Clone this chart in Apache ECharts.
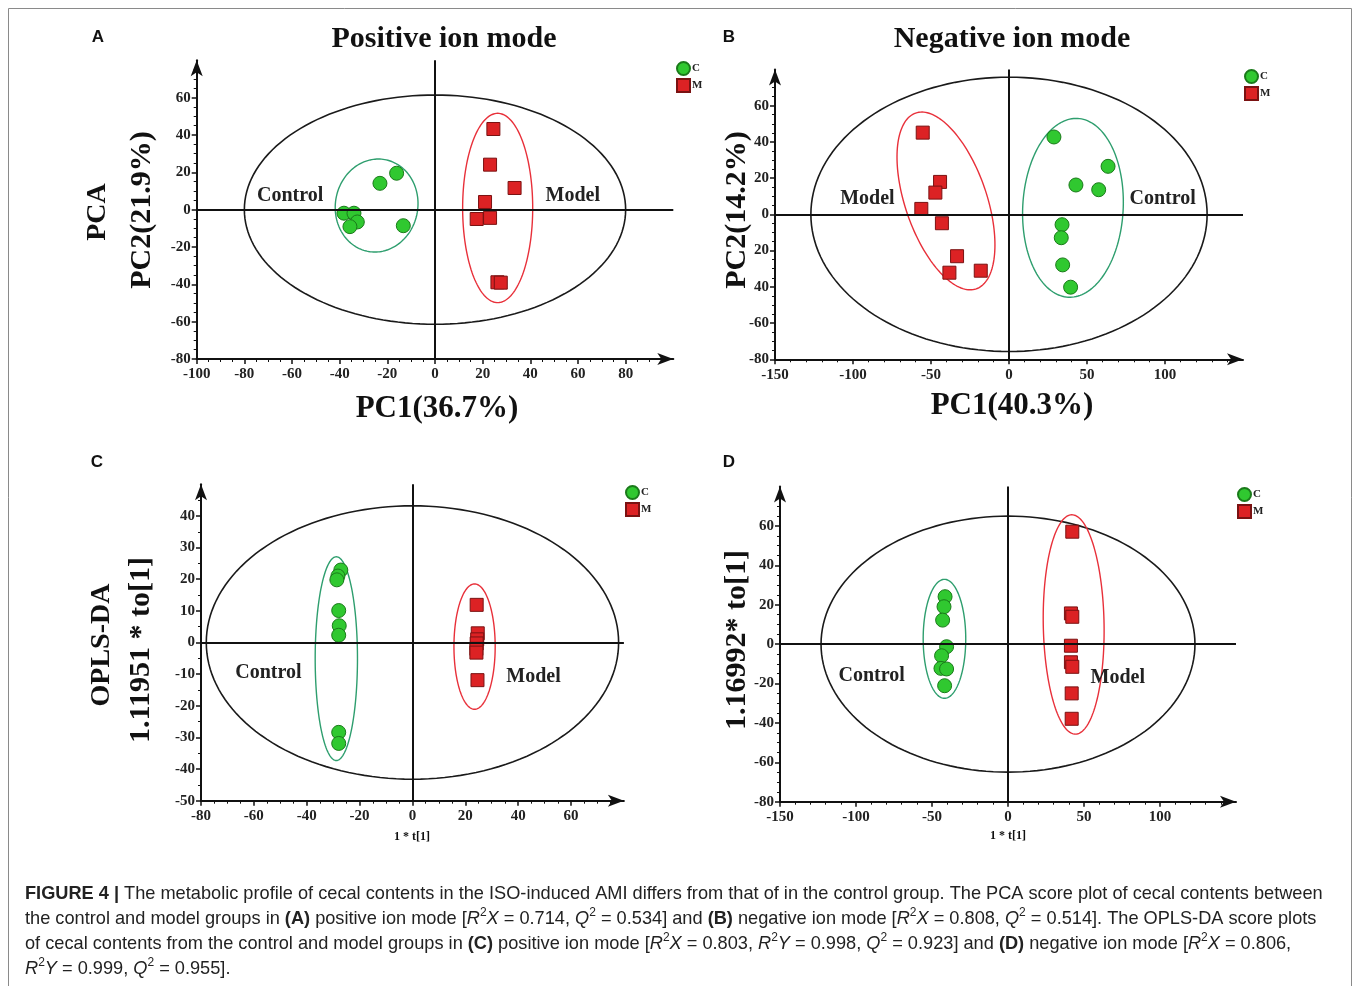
<!DOCTYPE html>
<html><head><meta charset="utf-8">
<script src="https://cdn.jsdelivr.net/npm/echarts@6/dist/echarts.min.js"></script>
<style>html,body{margin:0;padding:0;background:#fff}#c{width:1358px;height:986px}</style>
</head><body><div id="c"></div>
<script>
// ---------- DATA ----------
// Panel A: PCA, positive ion mode
const aControl = [[-23.1,14.1],[-16.1,19.5],[-38.2,-1.9],[-34.0,-1.9],[-32.6,-6.6],[-35.7,-9.1],[-13.3,-8.6]];
const aModel   = [[24.5,43.2],[23.1,24.1],[33.4,11.6],[21.0,4.1],[17.5,-5.0],[23.1,-4.4],[26.2,-38.9],[27.6,-39.1]];
// Panel B: PCA, negative ion mode
const bControl = [[28.8,42.7],[63.5,26.5],[42.9,16.2],[57.5,13.6],[34.0,-5.7],[33.5,-12.9],[34.4,-27.9],[39.5,-40.2]];
const bModel   = [[-55.3,45.1],[-44.2,17.9],[-47.2,12.0],[-56.2,3.0],[-43.0,-4.9],[-33.3,-23.1],[-38.2,-32.2],[-18.1,-31.1]];
// Panel C: OPLS-DA, positive ion mode
const cControl = [[-27.1,22.9],[-28.2,21.0],[-28.6,19.8],[-27.9,10.1],[-27.7,5.3],[-27.9,2.3],[-27.9,-28.4],[-27.9,-31.9]];
const cModel   = [[24.3,11.9],[24.7,2.9],[24.5,1.0],[24.3,-0.3],[24.2,-2.0],[24.2,-3.2],[24.6,-11.9]];
// Panel D: OPLS-DA, negative ion mode
const dControl = [[-41.4,24.1],[-42.1,19.0],[-43.0,12.2],[-40.4,-1.3],[-43.7,-5.9],[-44.1,-12.3],[-40.4,-12.6],[-41.7,-21.1]];
const dModel   = [[42.3,57.1],[41.4,15.6],[42.3,13.9],[41.4,-0.8],[41.4,-9.2],[42.3,-11.5],[41.9,-25.0],[41.9,-37.9]];

// Confidence ellipses [cx, cy, rx, ry, tiltDeg]: overall (T2), control group, model group
const aEllipses = [[0,0,80,61.4,0],[-24.5,2.2,17.3,25.0,10],[26.3,0.9,14.7,50.7,0]];
const bEllipses = [[0,0,127,75.7,0],[41.0,3.6,32.2,49.4,3],[-40.4,7.4,26.1,51.3,-19]];
const cEllipses = [[0,0,78,43.2,0],[-28.8,-5.1,8.0,32.2,0],[23.5,-1.3,7.8,19.8,0]];
const dEllipses = [[0,0,123,65,0],[-41.8,2.7,14.0,30.2,0],[43.2,10.0,20.0,55.7,-1]];

// Group text labels [text, x, y]
const aGroups = [['Control',-60.8,7.3],['Model',57.8,7.3]];
const bGroups = [['Model',-90.8,8.3],['Control',98.5,8.3]];
const cGroups = [['Control',-54.5,-9.7],['Model',45.8,-10.8]];
const dGroups = [['Control',-89.7,-16.0],['Model',72.2,-16.9]];

// Tick labels (from axis min, one per interval)
const aXLabels = ['-100','-80','-60','-40','-20','0','20','40','60','80'];
const aYLabels = ['-80','-60','-40','-20','0','20','40','60'];
const bXLabels = ['-150','-100','-50','0','50','100'];
const bYLabels = ['-80','-60','40','20','0','20','40','60'];
const cXLabels = ['-80','-60','-40','-20','0','20','40','60'];
const cYLabels = ['-50','-40','-30','-20','-10','0','10','20','30','40'];
const dXLabels = ['-150','-100','-50','0','50','100'];
const dYLabels = ['-80','-60','-40','-20','0','20','40','60'];

const legendNames = ['C','M'];
const titles = ['Positive ion mode','Negative ion mode'];
const panelLetters = ['A','B','C','D'];
const xTitles = ['PC1(36.7%)','PC1(40.3%)','1 * t[1]','1 * t[1]'];
const yTitles = ['PC2(21.9%)','PC2(14.2%)','1.11951 * to[1]','1.16992* to[1]'];
const rowTitles = ['PCA','OPLS-DA'];

// ---------- CHART ----------
const SERIF = '"Liberation Serif","Times New Roman",serif';
const SANS = '"Liberation Sans",Arial,sans-serif';
const GREEN = '#30c830', GREEN_B = '#1a7a1a', RED = '#dc2224', RED_B = '#7a1212';
const ELL_COLORS = ['#1a1a1a','#2e9e6e','#e8303a'];

const panels = [
  {grid:{left:196.7,top:60.3,width:476.6,height:298.7}, x:[-100,100,20,4,aXLabels], y:[-80,80,20,4,aYLabels],
   control:aControl, model:aModel, ell:aEllipses, groups:aGroups, leg:[676,61]},
  {grid:{left:775,top:69.4,width:468,height:289.9}, x:[-150,150,50,5,bXLabels], y:[-80,80,20,4,bYLabels],
   control:bControl, model:bModel, ell:bEllipses, groups:bGroups, leg:[1244,69]},
  {grid:{left:201,top:484.3,width:422.9,height:316.4}, x:[-80,80,20,4,cXLabels], y:[-50,50,10,2,cYLabels],
   control:cControl, model:cModel, ell:cEllipses, groups:cGroups, leg:[625,485]},
  {grid:{left:780,top:486.6,width:456,height:315.1}, x:[-150,150,50,5,dXLabels], y:[-80,80,20,4,dYLabels],
   control:dControl, model:dModel, ell:dEllipses, groups:dGroups, leg:[1237,487]}
];

function mkAxis(ax, i, isX) {
  const [min, max, interval, minorSplit, labels] = ax;
  const tickVals = labels.map((_, k) => min + k * interval);
  return {
    type:'value', gridIndex:i, min, max, interval,
    position: isX ? 'bottom' : 'left',
    splitLine:{show:false},
    axisLine:{show:true, onZero:false, symbol:['none','arrow'], symbolSize:[9,16], lineStyle:{color:'#111', width:2}},
    axisTick:{show:true, length:5, customValues:tickVals, lineStyle:{color:'#111', width:1.5}},
    minorTick:{show:true, splitNumber:minorSplit, length:3, lineStyle:{color:'#111', width:1}},
    axisLabel:{fontFamily:SERIF, fontWeight:'bold', fontSize:15, color:'#222', margin:isX ? 8 : 6,
      formatter: v => { const k = Math.round((v - min) / interval); return (k >= 0 && k < labels.length) ? labels[k] : ''; }}
  };
}

const series = [];
panels.forEach((p, i) => {
  series.push({
    type:'custom', xAxisIndex:i, yAxisIndex:i, clip:false, silent:true, z:1,
    data: p.ell.map(e => [e[0], e[1]]),
    renderItem: (params, api) => {
      const e = p.ell[params.dataIndex];
      const c = api.coord([e[0], e[1]]);
      const s = api.size([1, 1]);
      const A = e[2] * s[0], B = e[3] * s[1], ph = e[4] * Math.PI / 180;
      const pts = [];
      for (let k = 0; k <= 160; k++) {
        const t = k / 160 * 2 * Math.PI, u = A * Math.cos(t), v = B * Math.sin(t);
        pts.push([c[0] + u * Math.cos(ph) - v * Math.sin(ph), c[1] + u * Math.sin(ph) + v * Math.cos(ph)]);
      }
      return {type:'polyline', shape:{points:pts}, style:{stroke:ELL_COLORS[params.dataIndex], fill:null, lineWidth: params.dataIndex === 0 ? 1.6 : 1.4}};
    }
  });
  series.push({
    type:'custom', xAxisIndex:i, yAxisIndex:i, clip:false, silent:true, z:3,
    data: p.groups.map(g => [g[1], g[2]]),
    renderItem: (params, api) => {
      const g = p.groups[params.dataIndex];
      const c = api.coord([g[1], g[2]]);
      return {type:'text', x:c[0], y:c[1], style:{text:g[0], textAlign:'center', textVerticalAlign:'middle',
        font:'bold 20px ' + SERIF, fill:'#222'}};
    }
  });
  series.push({
    name:'C', type:'scatter', xAxisIndex:i, yAxisIndex:i, data:p.control, symbol:'circle', symbolSize:14, z:4,
    itemStyle:{color:GREEN, borderColor:GREEN_B, borderWidth:1, opacity:1},
    markLine:{silent:true, symbol:['none','none'], label:{show:false}, animation:false,
      lineStyle:{color:'#111', width:2, type:'solid'}, data:[{xAxis:0},{yAxis:0}]}
  });
  series.push({
    name:'M', type:'scatter', xAxisIndex:i, yAxisIndex:i, data:p.model, symbol:'rect', symbolSize:13, z:4,
    itemStyle:{color:RED, borderColor:RED_B, borderWidth:1, opacity:1}
  });
});

// caption (rich text)
const CAP = 18.2;
const richBase = {fontFamily:SANS, fontSize:CAP, lineHeight:24, fill:'#222'};
const rich = {
  b:{...richBase, fontWeight:'bold'},
  i:{...richBase, fontStyle:'italic'},
  s:{fontFamily:SANS, fontSize:12, lineHeight:24, verticalAlign:'top', fill:'#222'},
  n:{...richBase}
};
const captionLines = [
  '{b|FIGURE 4 |}{n| The metabolic profile of cecal contents in the ISO-induced AMI differs from that of in the control group. The PCA score plot of cecal contents between}',
  '{n|the control and model groups in }{b|(A)}{n| positive ion mode [}{i|R}{s|2}{i|X}{n| = 0.714, }{i|Q}{s|2}{n| = 0.534] and }{b|(B)}{n| negative ion mode [}{i|R}{s|2}{i|X}{n| = 0.808, }{i|Q}{s|2}{n| = 0.514]. The OPLS-DA score plots}',
  '{n|of cecal contents from the control and model groups in }{b|(C)}{n| positive ion mode [}{i|R}{s|2}{i|X}{n| = 0.803, }{i|R}{s|2}{i|Y}{n| = 0.998, }{i|Q}{s|2}{n| = 0.923] and }{b|(D)}{n| negative ion mode [}{i|R}{s|2}{i|X}{n| = 0.806,}',
  '{i|R}{s|2}{i|Y}{n| = 0.999, }{i|Q}{s|2}{n| = 0.955].}'
];

const graphics = [
  {type:'rect', shape:{x:8.5, y:8.5, width:1343, height:990}, style:{fill:null, stroke:'#8a8a8a', lineWidth:1}, silent:true}
];
const letterPos = [[98,37],[729,37],[97,462],[729,462]];
panelLetters.forEach((t, k) => graphics.push({type:'text', x:letterPos[k][0], y:letterPos[k][1],
  style:{text:t, font:'bold 17px ' + SANS, fill:'#111', textAlign:'center', textVerticalAlign:'middle'}}));
const titlePos = [[444,39],[1012,39]];
titles.forEach((t, k) => graphics.push({type:'text', x:titlePos[k][0], y:titlePos[k][1],
  style:{text:t, font:'bold 30px ' + SERIF, fill:'#111', textAlign:'center', textVerticalAlign:'middle'}}));
const xtPos = [[437,409,31],[1012,406,31],[412,837,12],[1008,836,12]];
xTitles.forEach((t, k) => graphics.push({type:'text', x:xtPos[k][0], y:xtPos[k][1],
  style:{text:t, font:'bold ' + xtPos[k][2] + 'px ' + SERIF, fill:'#111', textAlign:'center', textVerticalAlign:'middle'}}));
const ytPos = [[142,210,30],[737,210,30],[141,650,30],[737,640,30]];
yTitles.forEach((t, k) => graphics.push({type:'text', x:ytPos[k][0], y:ytPos[k][1], rotation:Math.PI/2,
  style:{text:t, font:'bold ' + ytPos[k][2] + 'px ' + SERIF, fill:'#111', textAlign:'center', textVerticalAlign:'middle'}}));
const rtPos = [[98,212],[102,645]];
rowTitles.forEach((t, k) => graphics.push({type:'text', x:rtPos[k][0], y:rtPos[k][1], rotation:Math.PI/2,
  style:{text:t, font:'bold 28px ' + SERIF, fill:'#111', textAlign:'center', textVerticalAlign:'middle'}}));
captionLines.forEach((ln, k) => graphics.push({type:'text', x:25, y:894 + k*25,
  style:{text:ln, rich, font:CAP + 'px ' + SANS, fill:'#222', textAlign:'left', textVerticalAlign:'middle'}}));

const chart = echarts.init(document.getElementById('c'), null, {renderer:'canvas'});
chart.setOption({
  backgroundColor:'#fff',
  animation:false,
  grid: panels.map(p => ({...p.grid, containLabel:false})),
  xAxis: panels.map((p, i) => mkAxis(p.x, i, true)),
  yAxis: panels.map((p, i) => mkAxis(p.y, i, false)),
  legend: panels.map(p => ({data:legendNames, orient:'vertical', left:p.leg[0], top:p.leg[1], itemWidth:13, itemHeight:13,
    itemGap:2, selectedMode:false, padding:0, textStyle:{fontFamily:SERIF, fontWeight:'bold', fontSize:11, color:'#222', padding:[0,0,0,-3]}})),
  series,
  graphic: graphics
});
</script></body></html>
